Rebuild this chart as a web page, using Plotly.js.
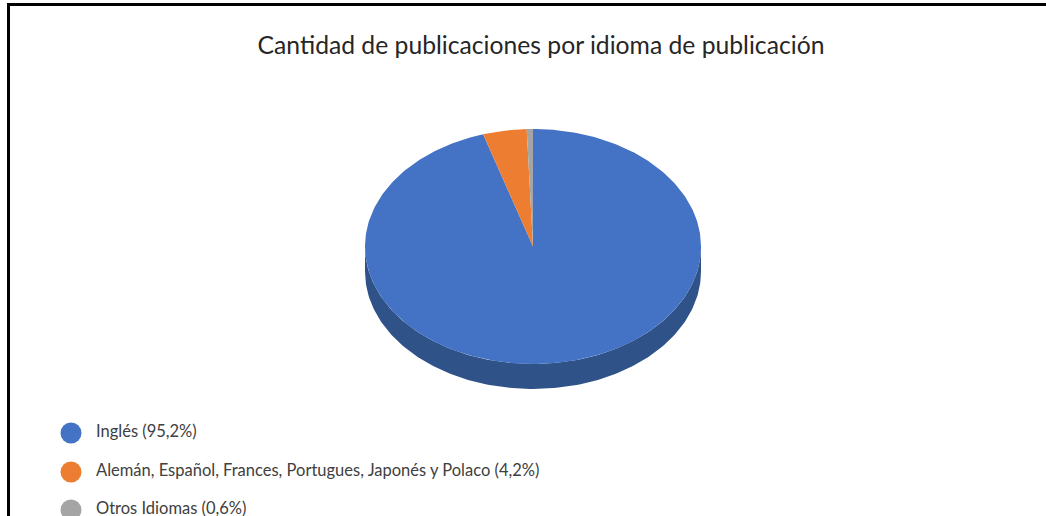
<!DOCTYPE html>
<html>
<head>
<meta charset="utf-8">
<script src="https://cdn.plot.ly/plotly-3.0.1.min.js"></script>
<style>html,body{margin:0;padding:0;background:#fff;overflow:hidden}#chart{width:1046px;height:516px}</style>
</head>
<body>
<div id="chart"></div>
<script>
const chartTitle = "Cantidad de publicaciones por idioma de publicación";
const categories = ["Inglés", "Alemán, Español, Frances, Portugues, Japonés y Polaco", "Otros Idiomas"];
const shares = [95.2, 4.2, 0.6];
const shareLabels = ["95,2%", "4,2%", "0,6%"];
const sliceColors = ["#4472C4", "#ED7D31", "#A5A5A5"];
const sideColor = "#2F5289";

// Tilted disc geometry, in the page-sized axis units used below
const disc = {cx: 533, cy: 246.5, rx: 168, ry: 117.5, depth: 25};
const legendRows = [433, 472, 510];

const total = shares.reduce((a, b) => a + b, 0);

function rimPoint(turn, drop) {
  const a = turn * 2 * Math.PI;
  return [disc.cx + disc.rx * Math.sin(a), disc.cy - disc.ry * Math.cos(a) + (drop || 0)];
}

// Outline of one slice between two fractions of a turn, clockwise from 12 o'clock
function sliceOutline(from, to) {
  const xs = [disc.cx], ys = [disc.cy];
  const steps = Math.max(4, Math.ceil((to - from) * 360));
  for (let i = 0; i <= steps; i++) {
    const p = rimPoint(from + (to - from) * i / steps);
    xs.push(p[0]); ys.push(p[1]);
  }
  xs.push(disc.cx); ys.push(disc.cy);
  return {xs, ys};
}

// Visible wall of the disc: the front half of the rim and its lowered copy
function wallOutline() {
  const xs = [], ys = [];
  for (let i = 0; i <= 180; i++) {
    const p = rimPoint(0.25 + i / 360);
    xs.push(p[0]); ys.push(p[1]);
  }
  for (let i = 180; i >= 0; i--) {
    const p = rimPoint(0.25 + i / 360, disc.depth);
    xs.push(p[0]); ys.push(p[1]);
  }
  xs.push(xs[0]); ys.push(ys[0]);
  return {xs, ys};
}

const wall = wallOutline();
const traces = [{
  type: "scatter", mode: "lines", x: wall.xs, y: wall.ys, fill: "toself",
  fillcolor: sideColor, line: {width: 0, color: sideColor}, hoverinfo: "skip", showlegend: false
}];

let running = 0;
categories.forEach((name, i) => {
  const from = running / total;
  running += shares[i];
  const s = sliceOutline(from, running / total);
  traces.push({
    type: "scatter", mode: "lines", x: s.xs, y: s.ys, fill: "toself",
    fillcolor: sliceColors[i], line: {width: 0, color: sliceColors[i]},
    name: name, text: name + " (" + shareLabels[i] + ")", hoveron: "fills", hoverinfo: "text", showlegend: false
  });
});

// Key below the disc: round swatches with their captions
traces.push({
  type: "scatter", mode: "markers", x: categories.map(() => 71), y: legendRows,
  marker: {size: 21, color: sliceColors}, hoverinfo: "skip", showlegend: false
});
traces.push({
  type: "scatter", mode: "text", x: categories.map(() => 96), y: legendRows,
  text: categories.map((c, i) => c + " (" + shareLabels[i] + ")"),
  textposition: "middle right", textfont: {family: "Lato, sans-serif", size: 16.5, color: "#404040"},
  hoverinfo: "skip", showlegend: false
});

const hiddenAxis = {visible: false, showgrid: false, zeroline: false, fixedrange: true};
const layout = {
  width: 1046, height: 516,
  margin: {l: 0, r: 0, t: 0, b: 0},
  paper_bgcolor: "#fff", plot_bgcolor: "#fff",
  showlegend: false,
  title: {
    text: chartTitle, x: 541 / 1046, xanchor: "center", xref: "paper",
    y: 1 - 45 / 516, yanchor: "middle", yref: "paper",
    font: {family: "Lato, sans-serif", size: 24.7, color: "#262626"}
  },
  xaxis: Object.assign({range: [0, 1046]}, hiddenAxis),
  yaxis: Object.assign({range: [516, 0]}, hiddenAxis),
  shapes: [
    {type: "line", xref: "x", yref: "y", x0: 8.5, x1: 8.5, y0: 3, y1: 516, line: {color: "#000", width: 3}},
    {type: "line", xref: "x", yref: "y", x0: 7, x1: 1046, y0: 4.5, y1: 4.5, line: {color: "#000", width: 3}}
  ]
};

Plotly.newPlot("chart", traces, layout, {displayModeBar: false});
</script>
</body>
</html>
